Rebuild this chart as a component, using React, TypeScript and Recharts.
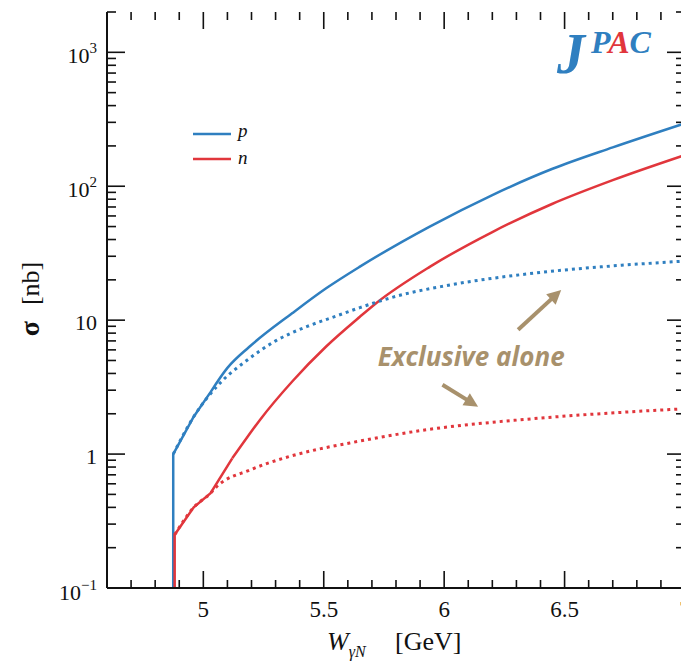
import React from "react";
import { LineChart, Line, XAxis, YAxis, Legend, ReferenceLine, ReferenceDot, Customized } from "recharts";

const BLUE = "#2f7fc0";
const RED = "#e1363c";
const TAN = "#a8916c";
const INK = "#111";

// photoproduction cross section, W in GeV, sigma in nb
// proton: sharp rise at threshold, then the full curve
const pRiseW = [4.875, 4.875, 4.96, 5.03];
const pRiseSigma = [0.01, 1.0, 1.9, 2.9];
const pW = [5.03, 5.1, 5.19, 5.37, 5.51, 5.65, 5.94, 6.2, 6.45, 6.7, 7.0];
const pSigma = [2.9, 4.4, 6.3, 11.3, 17.3, 25.1, 50, 86, 135, 195, 295];

// proton, exclusive channel only
const pExclW = [4.875, 4.96, 5.07, 5.18, 5.3, 5.44, 5.55, 5.65, 5.82, 6.0, 6.35, 6.65, 7.0];
const pExclSigma = [1.0, 1.9, 3.4, 5.0, 7.0, 9.1, 10.7, 12.4, 15.4, 18.0, 22.2, 25.0, 27.6];

// neutron
const nRiseW = [4.881, 4.881, 4.96, 5.03, 5.12];
const nRiseSigma = [0.01, 0.25, 0.4, 0.51, 0.93];
const nW = [5.12, 5.18, 5.235, 5.37, 5.51, 5.65, 5.72, 5.94, 6.2, 6.45, 6.7, 7.0];
const nSigma = [0.93, 1.32, 1.8, 3.5, 6.36, 10.6, 13.5, 25, 45.5, 74, 111, 171];

// neutron, exclusive channel only
const nExclW = [4.881, 4.96, 5.03, 5.055, 5.193, 5.332, 5.47, 5.608, 5.927, 6.342, 6.756, 7.0];
const nExclSigma = [0.25, 0.4, 0.51, 0.57, 0.76, 0.93, 1.08, 1.21, 1.52, 1.82, 2.06, 2.18];

const xTicks = [
  4.6, 4.7, 4.8, 4.9, 5.0, 5.1, 5.2, 5.3, 5.4, 5.5, 5.6, 5.7, 5.8, 5.9,
  6.0, 6.1, 6.2, 6.3, 6.4, 6.5, 6.6, 6.7, 6.8, 6.9, 7.0,
];
const yTicks = [
  0.1, 0.2, 0.3, 0.4, 0.5, 0.6, 0.7, 0.8, 0.9,
  1, 2, 3, 4, 5, 6, 7, 8, 9,
  10, 20, 30, 40, 50, 60, 70, 80, 90,
  100, 200, 300, 400, 500, 600, 700, 800, 900,
  1000, 2000,
];

const toPoints = (ws: number[], s: number[]) => ws.map((w, i) => ({ w, s: s[i] }));

const isMajorX = (v: number) => Math.abs(v * 2 - Math.round(v * 2)) < 1e-6;
const isDecade = (v: number) => Math.abs(Math.log10(v) - Math.round(Math.log10(v))) < 1e-6;

const serif = "'Liberation Serif', 'DejaVu Serif', serif";

function BottomLabel({ x, y, payload }: any) {
  if (!isMajorX(payload.value)) return <g />;
  return (
    <text x={x} y={y + 29} textAnchor="middle" fontFamily={serif} fontSize={23} fill={INK}>
      {String(payload.value)}
    </text>
  );
}

function LeftLabel({ x, y, payload }: any) {
  const v = payload.value;
  if (!isDecade(v)) return <g />;
  const e = Math.round(Math.log10(v));
  const tx = x - 10;
  if (e === 0 || e === 1) {
    return (
      <text x={tx} y={y + 10} textAnchor="end" fontFamily={serif} fontSize={22} fill={INK}>
        {e === 0 ? "1" : "10"}
      </text>
    );
  }
  return (
    <text x={tx} y={y + (e < 0 ? 12 : 11)} textAnchor="end" fontFamily={serif} fontSize={22} fill={INK}>
      10
      <tspan fontSize={15} dy={-10}>
        {e < 0 ? "\u2212" + Math.abs(e) : String(e)}
      </tspan>
    </text>
  );
}

// inward tick marks on both vertical frame sides
function YTickMarks(props: any) {
  const { x1, x2, y1, value } = props;
  const len = isDecade(value) ? 18 : 9;
  const left = Math.min(x1, x2);
  const right = Math.max(x1, x2);
  return (
    <g>
      <line x1={left} x2={left + len} y1={y1} y2={y1} stroke={INK} strokeWidth={1.6} />
      <line x1={right - len} x2={right} y1={y1} y2={y1} stroke={INK} strokeWidth={1.6} />
    </g>
  );
}

// inward tick marks on top and bottom frame sides
function XTickMarks(props: any) {
  const { x1, y1, y2, value } = props;
  const len = isMajorX(value) ? 17 : 8;
  const top = Math.min(y1, y2);
  const bottom = Math.max(y1, y2);
  return (
    <g>
      <line x1={x1} x2={x1} y1={top} y2={top + len} stroke={INK} strokeWidth={1.6} />
      <line x1={x1} x2={x1} y1={bottom - len} y2={bottom} stroke={INK} strokeWidth={1.6} />
    </g>
  );
}

function Arrow({ x1, y1, x2, y2 }: any) {
  const dx = x2 - x1;
  const dy = y2 - y1;
  const len = Math.hypot(dx, dy);
  const ux = dx / len;
  const uy = dy / len;
  const head = 14;
  const half = 7;
  const bx = x2 - ux * head;
  const by = y2 - uy * head;
  return (
    <g>
      <line x1={x1} y1={y1} x2={bx + ux * 2} y2={by + uy * 2} stroke={TAN} strokeWidth={4} />
      <polygon
        points={`${x2},${y2} ${bx - uy * half},${by + ux * half} ${bx + uy * half},${by - ux * half}`}
        fill={TAN}
      />
    </g>
  );
}

function SeriesKey() {
  return (
    <svg width={80} height={52}>
      <line x1={3} x2={41} y1={14} y2={14} stroke={BLUE} strokeWidth={2.5} />
      <line x1={3} x2={41} y1={39} y2={39} stroke={RED} strokeWidth={2.5} />
      <text x={48} y={17} fontFamily={serif} fontStyle="italic" fontSize={19} fill={INK}>p</text>
      <text x={48} y={44} fontFamily={serif} fontStyle="italic" fontSize={19} fill={INK}>n</text>
    </svg>
  );
}

function Titles() {
  return (
    <g>
      <text x={327} y={650} fontFamily={serif} fontSize={26} fill={INK}>
        <tspan fontStyle="italic">W</tspan>
        <tspan fontStyle="italic" fontSize={16} dy={7}>{"\u03b3N"}</tspan>
        <tspan x={395} dy={-7}>[GeV]</tspan>
      </text>
      <text
        transform="translate(39, 299) rotate(-90)"
        textAnchor="middle"
        fontFamily={serif}
        fontSize={26}
        fill={INK}
      >
        <tspan fontWeight="bold" fontSize={28}>{"\u03c3"}</tspan>
        <tspan dx={16}>[nb]</tspan>
      </text>
      <text fontFamily={serif} fontWeight="bold" fontStyle="italic">
        <tspan x={557} y={73} fontSize={56} fill={BLUE}>J</tspan>
        <tspan x={591} y={53} fontSize={32} fill={BLUE}>P</tspan>
        <tspan fontSize={32} fill={RED}>A</tspan>
        <tspan fontSize={32} fill={BLUE}>C</tspan>
      </text>
    </g>
  );
}

const solid = { dot: false as const, isAnimationActive: false, strokeWidth: 2.5 };
const dotted = { dot: false as const, isAnimationActive: false, strokeWidth: 3, strokeDasharray: "3 4" };

export default function App() {
  return (
    <div
      style={{
        position: "fixed",
        left: 0,
        top: 0,
        width: 681,
        height: 665,
        overflow: "hidden",
        background: "#fff",
      }}
    >
      <LineChart width={700} height={665} margin={{ top: 12, right: 15, left: 0, bottom: 0 }}>
        <XAxis
          dataKey="w"
          type="number"
          domain={[4.6, 7]}
          ticks={xTicks}
          allowDataOverflow
          height={77}
          tickSize={0}
          tickMargin={0}
          tickLine={false}
          tick={<BottomLabel />}
          axisLine={{ stroke: INK, strokeWidth: 2 }}
          interval={0}
        />
        <XAxis
          xAxisId="top"
          orientation="top"
          type="number"
          domain={[4.6, 7]}
          height={0}
          tick={false}
          tickLine={false}
          axisLine={{ stroke: INK, strokeWidth: 2 }}
        />
        <YAxis
          dataKey="s"
          scale="log"
          type="number"
          domain={[0.1, 2000]}
          ticks={yTicks}
          allowDataOverflow
          width={107}
          tickSize={0}
          tickMargin={0}
          tickLine={false}
          tick={<LeftLabel />}
          axisLine={{ stroke: INK, strokeWidth: 2 }}
          interval={0}
        />
        <YAxis
          yAxisId="right"
          orientation="right"
          scale="log"
          type="number"
          domain={[0.1, 2000]}
          allowDataOverflow
          width={0}
          tick={false}
          tickLine={false}
          axisLine={{ stroke: INK, strokeWidth: 2 }}
        />
        <Legend
          layout="vertical"
          align="center"
          verticalAlign="middle"
          wrapperStyle={{ left: 190, top: 120, width: 80 }}
          content={<SeriesKey />}
        />

        {yTicks.map((v) => (
          <ReferenceLine key={"y" + v} y={v} shape={(p: any) => <YTickMarks {...p} value={v} />} />
        ))}
        {xTicks.map((v) => (
          <ReferenceLine key={"x" + v} x={v} shape={(p: any) => <XTickMarks {...p} value={v} />} />
        ))}

        <Line data={toPoints(pRiseW, pRiseSigma)} dataKey="s" type="linear" stroke={BLUE} {...solid} legendType="none" />
        <Line data={toPoints(pW, pSigma)} dataKey="s" type="monotone" stroke={BLUE} {...solid} name="p" />
        <Line data={toPoints(nRiseW, nRiseSigma)} dataKey="s" type="linear" stroke={RED} {...solid} legendType="none" />
        <Line data={toPoints(nW, nSigma)} dataKey="s" type="monotone" stroke={RED} {...solid} name="n" />
        <Line data={toPoints(pExclW, pExclSigma)} dataKey="s" type="monotone" stroke={BLUE} {...dotted} legendType="none" />
        <Line data={toPoints(nExclW, nExclSigma)} dataKey="s" type="monotone" stroke={RED} {...dotted} legendType="none" />

        <ReferenceLine segment={[{ x: 6.307, y: 8.47 }, { x: 6.486, y: 16.8 }]} shape={(p: any) => <Arrow {...p} />} />
        <ReferenceLine segment={[{ x: 5.993, y: 3.29 }, { x: 6.141, y: 2.26 }]} shape={(p: any) => <Arrow {...p} />} />
        <ReferenceDot
          x={6.112}
          y={4.56}
          shape={(p: any) => (
            <text
              x={p.cx}
              y={p.cy}
              textAnchor="middle"
              fontFamily="'Open Sans', Lato, sans-serif"
              fontWeight="bold"
              fontStyle="italic"
              fontSize={26}
              fill={TAN}
            >
              Exclusive alone
            </text>
          )}
        />
        <Customized component={<Titles />} />
      </LineChart>
    </div>
  );
}
